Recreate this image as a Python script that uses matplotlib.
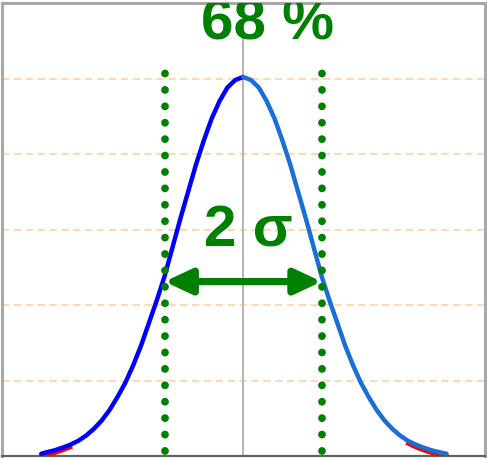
import matplotlib
matplotlib.use("Agg")
import matplotlib.pyplot as plt

plt.rcParams['font.family'] = ['Liberation Sans', 'DejaVu Sans']

# curve (x in units of the dotted-line distance)
x_left = [-2.57, -2.5, -2.4, -2.3, -2.2, -2.1, -2.0, -1.9, -1.8, -1.7, -1.6, -1.5, -1.4,
          -1.3, -1.2, -1.1, -1.0, -0.9, -0.8, -0.7, -0.6, -0.5, -0.4, -0.3, -0.2, -0.1, 0.0]
y_left = [0.03, 0.05, 0.075, 0.11, 0.15, 0.20, 0.27, 0.36, 0.47, 0.61, 0.78, 0.97, 1.20,
          1.46, 1.76, 2.06, 2.38, 2.76, 3.14, 3.50, 3.86, 4.18, 4.47, 4.70, 4.88, 4.98, 5.02]
x_right = [0.0, 0.1, 0.2, 0.3, 0.4, 0.5, 0.6, 0.7, 0.8, 0.9, 1.0, 1.1, 1.2, 1.3,
           1.4, 1.5, 1.6, 1.7, 1.8, 1.9, 2.0, 2.1, 2.2, 2.3, 2.4, 2.5, 2.59]
y_right = [5.02, 4.98, 4.88, 4.70, 4.47, 4.18, 3.86, 3.50, 3.14, 2.76, 2.38, 2.06, 1.76, 1.46,
           1.20, 0.97, 0.78, 0.61, 0.47, 0.36, 0.27, 0.20, 0.15, 0.11, 0.075, 0.05, 0.03]

sigma_lines = [-1.0, 1.0]
arrow_y = 2.31
grid_levels = [1, 2, 3, 4, 5]

fig = plt.figure(figsize=(4.87, 4.60), dpi=100)
ax = fig.add_axes([2/487, 3/460, 483/487, 453/460])
ax.set_xlim(-3.07, 3.08)
ax.set_ylim(0, 6)
ax.set_xticks([])
ax.set_yticks([])

for s in ['left', 'top', 'right']:
    ax.spines[s].set_color('#a8a8a8')
    ax.spines[s].set_linewidth(2.2)
ax.spines['bottom'].set_color('#606060')
ax.spines['bottom'].set_linewidth(1.6)

for g in grid_levels:
    ax.axhline(g, color='#ffd9b3', lw=1.5, linestyle=(0, (3.5, 2.2)), zorder=1)

ax.axvline(0, color='#b4b4b4', lw=1.4, zorder=2)

# red tails peeking under the curve
ax.plot(x_left[:5], [v - 0.035 for v in y_left[:5]], color='red', lw=3, zorder=3)
ax.plot(x_right[-6:], [v - 0.035 for v in y_right[-6:]], color='red', lw=3, zorder=3)

ax.plot(x_left, y_left, color='#0000ff', lw=3.2, solid_capstyle='round', zorder=4)
ax.plot(x_right, y_right, color='#1a6fd6', lw=3.2, solid_capstyle='round', zorder=4)

for sx in sigma_lines:
    ax.plot([sx, sx], [0.06, 5.25], color='green', lw=5.6,
            linestyle=(0, (0.01, 2.1)), dash_capstyle='round', zorder=5)

ax.annotate('', xy=(sigma_lines[0], arrow_y), xytext=(sigma_lines[1], arrow_y),
            arrowprops=dict(arrowstyle='<|-|>,head_length=1.6,head_width=0.75',
                            mutation_scale=10, lw=5.2, color='green',
                            shrinkA=0, shrinkB=0), zorder=6)

ax.text(0.07, 2.785, '2 σ', color='green', fontsize=42, fontweight='bold',
        ha='center', va='baseline', zorder=6)
ax.text(0.31, 5.53, '68 %', color='green', fontsize=42, fontweight='bold',
        ha='center', va='baseline', zorder=6, clip_on=True)

fig.savefig('out.png', dpi=100)
